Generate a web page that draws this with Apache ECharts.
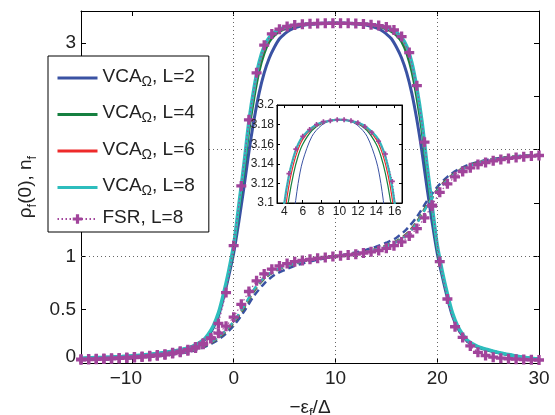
<!DOCTYPE html>
<html><head><meta charset="utf-8">
<script src="https://cdn.jsdelivr.net/npm/echarts@6/dist/echarts.min.js"></script>
<style>html,body{margin:0;padding:0;background:#fff}#c{width:555px;height:415px}</style>
</head><body><div id="c"></div>
<script>
// ---------- data ----------
const xRho = [-15,-14,-13,-12,-11,-10,-9,-8,-7,-6,-5,-4,-3,
  -2.5,-2,-1.5,-1,-0.5,0,0.5,1,1.5,2,2.5,3,3.5,4,4.5,5,5.5,6,
  7,8,9,10,11,12,13,
  14,14.5,15,15.5,16,16.5,17,17.5,18,18.5,19,19.5,20,20.5,21,21.5,22,22.5,
  23,24,25,26,27,28,29,30];
const rhoL2 = [0.043,0.047,0.051,0.055,0.06,0.066,0.073,0.082,0.094,0.108,0.127,0.155,0.205,
  0.255,0.33,0.44,0.61,0.81,1.03,1.32,1.64,1.98,2.28,2.53,2.72,2.86,2.96,3.04,3.085,3.12,3.143,
  3.168,3.179,3.184,3.185,3.184,3.179,3.168,
  3.143,3.12,3.085,3.04,2.96,2.86,2.72,2.53,2.28,1.98,1.64,1.32,1.03,0.81,0.61,0.44,0.33,0.255,
  0.2,0.15,0.12,0.096,0.077,0.059,0.046,0.036];
const rhoL4 = [0.044,0.048,0.052,0.056,0.061,0.067,0.074,0.083,0.095,0.109,0.128,0.157,0.21,
  0.262,0.34,0.455,0.63,0.84,1.07,1.42,1.78,2.17,2.48,2.73,2.9,3.01,3.07,3.105,3.13,3.148,3.16,
  3.174,3.181,3.184,3.185,3.184,3.181,3.174,
  3.16,3.148,3.13,3.105,3.07,3.01,2.9,2.73,2.48,2.17,1.78,1.42,1.07,0.84,0.63,0.455,0.34,0.262,
  0.205,0.152,0.122,0.098,0.078,0.06,0.047,0.037];
const rhoL6 = [0.044,0.048,0.052,0.056,0.061,0.067,0.074,0.083,0.095,0.109,0.128,0.158,0.212,
  0.265,0.345,0.46,0.64,0.85,1.09,1.45,1.82,2.22,2.53,2.78,2.94,3.035,3.085,3.118,3.14,3.155,3.165,
  3.176,3.181,3.184,3.185,3.184,3.181,3.176,
  3.165,3.155,3.14,3.118,3.085,3.035,2.94,2.78,2.53,2.22,1.82,1.45,1.09,0.85,0.64,0.46,0.345,0.265,
  0.207,0.153,0.123,0.098,0.079,0.061,0.047,0.037];
const rhoL8 = [0.045,0.049,0.053,0.057,0.062,0.068,0.075,0.084,0.096,0.11,0.13,0.16,0.215,
  0.27,0.35,0.47,0.65,0.86,1.11,1.48,1.86,2.27,2.58,2.82,2.97,3.055,3.1,3.128,3.147,3.16,3.168,
  3.177,3.182,3.184,3.185,3.184,3.182,3.177,
  3.168,3.16,3.147,3.128,3.1,3.055,2.97,2.82,2.58,2.27,1.86,1.48,1.11,0.86,0.65,0.47,0.35,0.27,
  0.21,0.155,0.125,0.1,0.08,0.062,0.048,0.038];

const xN = [-15,-14,-13,-12,-11,-10,-9,-8,-7,-6,-5,-4,-3,-2,-1,0,1,2,3,4,5,6,7,8,9,10,
  11,12,13,14,15,16,17,18,19,20,21,22,23,24,25,26,27,28,29,30];
const nL2 = [0.028,0.031,0.034,0.038,0.042,0.047,0.052,0.059,0.068,0.08,0.094,0.115,0.145,0.19,0.255,
  0.35,0.48,0.63,0.745,0.825,0.872,0.91,0.94,0.963,0.982,1.0,
  1.018,1.037,1.06,1.09,1.128,1.175,1.255,1.37,1.52,1.65,1.745,1.81,1.855,1.885,1.906,1.92,1.932,1.941,1.948,1.953];
const nL4 = [0.029,0.032,0.035,0.039,0.043,0.048,0.054,0.061,0.071,0.084,0.099,0.122,0.155,0.203,0.275,
  0.378,0.515,0.675,0.79,0.858,0.9,0.932,0.956,0.974,0.987,1.0,
  1.013,1.026,1.044,1.068,1.1,1.142,1.21,1.322,1.485,1.622,1.725,1.797,1.845,1.878,1.901,1.916,1.929,1.939,1.946,1.951];
const nL6 = [0.03,0.033,0.036,0.04,0.044,0.049,0.055,0.062,0.072,0.085,0.1,0.124,0.158,0.207,0.28,
  0.385,0.525,0.685,0.797,0.863,0.903,0.934,0.957,0.975,0.988,1.0,
  1.012,1.026,1.043,1.066,1.097,1.138,1.205,1.315,1.475,1.615,1.72,1.793,1.842,1.876,1.9,1.915,1.928,1.938,1.945,1.95];
const nL8 = [0.03,0.033,0.036,0.04,0.044,0.049,0.055,0.062,0.072,0.085,0.1,0.125,0.16,0.21,0.285,
  0.39,0.53,0.69,0.8,0.865,0.905,0.935,0.958,0.975,0.988,1.0,
  1.012,1.025,1.042,1.065,1.095,1.135,1.2,1.31,1.47,1.61,1.715,1.79,1.84,1.875,1.9,1.915,1.928,1.938,1.945,1.95];

const xFSR = [-15,-14.25,-13.5,-12.75,-12,-11.25,-10.5,-9.75,-9,-8.25,-7.5,-6.75,-6,-5.25,-4.5,-3.75,-3,-2.25,-1.5,-0.75,
  0,0.75,1.5,2.25,3,3.75,4.5,5.25,6,6.75,7.5,8.25,9,9.75,
  10.5,11.25,12,12.75,13.5,14.25,15,15.75,16.5,17.25,18,18.75,19.5,20.25,21,21.75,22.5,23.25,24,24.75,25.5,26.25,27,27.75,28.5,29.25,30];
const fsrRho = [0.03,0.032,0.034,0.037,0.04,0.043,0.047,0.051,0.056,0.062,0.069,0.077,0.088,0.1,0.116,0.14,0.175,0.235,0.37,0.66,
  1.10,1.66,2.28,2.72,2.98,3.085,3.13,3.155,3.168,3.175,3.18,3.183,3.184,3.185,
  3.185,3.184,3.182,3.178,3.172,3.163,3.15,3.122,3.06,2.91,2.6,2.07,1.47,0.95,0.6,0.34,0.24,0.16,0.1,0.07,0.055,0.045,0.04,0.036,0.033,0.03,0.028];
const fsrN = [0.035,0.037,0.039,0.042,0.045,0.048,0.052,0.056,0.062,0.068,0.075,0.083,0.095,0.11,0.125,0.15,0.185,0.23,0.28,0.345,
  0.43,0.55,0.67,0.77,0.835,0.88,0.91,0.932,0.95,0.962,0.972,0.982,0.99,0.998,
  1.005,1.013,1.02,1.031,1.042,1.055,1.075,1.1,1.135,1.19,1.26,1.36,1.48,1.6,1.68,1.745,1.795,1.83,1.86,1.88,1.895,1.908,1.918,1.926,1.934,1.94,1.945];

const seriesNames = ['VCAΩ, L=2','VCAΩ, L=4','VCAΩ, L=6','VCAΩ, L=8'];
const fsrName = 'FSR, L=8';
const xTicks = [-10,0,10,20,30];
const yTicks = [0,0.5,1,1.5,2,2.5,3];
const gridX = [0,10,20];
const gridY = [1,2];
const insetXTicks = [4,6,8,10,12,14,16];
const insetYTicks = [3.1,3.12,3.14,3.16,3.18,3.2];
const insetGridX = [10];

// ---------- styles ----------
const colors = ['#3A52A3','#168040','#EE2A2A','#2DBDBD'];
const magenta = '#A1449B';
const rhoWidths = [3,2.5,1.6,3.4];
const insetWidths = [1,1.2,1.2,2.2];
const FONT = 'Liberation Sans, Arial, sans-serif';
const plus = 'path://M3,0H6V3H9V6H6V9H3V6H0V3H3Z';
const zip = (xs, ys) => xs.map((x, i) => [x, ys[i]]);
const rhoAll = [rhoL2, rhoL4, rhoL6, rhoL8];
const nAll = [nL2, nL4, nL6, nL8];

const series = [];
series.push({
  type: 'line', name: 'grid', data: [], z: 1, silent: true,
  markLine: { silent: true, symbol: ['none','none'], label: {show:false}, animation:false,
    lineStyle: { color: '#666', type: [1,3], width: 1 },
    data: gridX.map(v => ({xAxis: v})).concat(gridY.map(v => ({yAxis: v}))) }
});
for (let k = 0; k < 4; k++) {
  series.push({ type:'line', name: seriesNames[k], xAxisIndex:0, yAxisIndex:0,
    data: zip(xRho, rhoAll[k]), symbol:'circle', showSymbol:false, smooth:0.3, z: 2 + k*0.1,
    lineStyle:{color:colors[k], width:rhoWidths[k]}, itemStyle:{color:colors[k]} });
  series.push({ type:'line', name: seriesNames[k], xAxisIndex:0, yAxisIndex:0,
    data: zip(xN, nAll[k]), symbol:'circle', showSymbol:false, smooth:0.3, z: 2 + k*0.1,
    lineStyle:{color:colors[k], width:2.5, type:[7,4]}, itemStyle:{color:colors[k]} });
}
series.push({ type:'line', name: fsrName, xAxisIndex:0, yAxisIndex:0, data: zip(xFSR, fsrRho),
  symbol: plus, symbolSize: 10, showAllSymbol: true, z: 3,
  itemStyle:{color:magenta}, lineStyle:{color:magenta, width:1.2, type:[1.5,2.5]} });
series.push({ type:'line', name: fsrName, xAxisIndex:0, yAxisIndex:0, data: zip(xFSR, fsrN),
  symbol: plus, symbolSize: 10, showAllSymbol: true, z: 3,
  itemStyle:{color:magenta}, lineStyle:{color:magenta, width:1.2, type:[1.5,2.5]} });
// inset
series.push({
  type: 'line', name: 'insetgrid', xAxisIndex:2, yAxisIndex:2, data: [], z: 11, silent: true,
  markLine: { silent: true, symbol: ['none','none'], label: {show:false}, animation:false,
    lineStyle: { color: '#888', type: [1,2], width: 1 },
    data: insetGridX.map(v => ({xAxis: v})) }
});
for (let k = 0; k < 4; k++) {
  series.push({ type:'line', name: seriesNames[k], xAxisIndex:2, yAxisIndex:2,
    data: zip(xRho, rhoAll[k]), symbol:'circle', showSymbol:false, smooth:0.3, z: 12, clip: true,
    lineStyle:{color:colors[k], width:insetWidths[k]}, itemStyle:{color:colors[k]} });
}
series.push({ type:'line', name: fsrName, xAxisIndex:2, yAxisIndex:2, data: zip(xFSR, fsrRho),
  symbol: plus, symbolSize: 5, showAllSymbol: true, z: 12, clip: true,
  itemStyle:{color:magenta}, lineStyle:{color:magenta, width:1, type:[1,2]} });

const axisLineBlack = { show:true, onZero:false, lineStyle:{color:'#000', width:1} };
const labelStyle = { fontSize: 19, color: '#222', fontFamily: FONT };
const rich = {
  a: { fontSize: 19, lineHeight: 22, verticalAlign: 'top', fontFamily: FONT, color: '#222' },
  s: { fontSize: 13, lineHeight: 13, verticalAlign: 'bottom', padding: [14,0,0,0], fontFamily: FONT, color: '#222' }
};

const option = {
  animation: false,
  backgroundColor: '#fff',
  grid: [
    { left: 81, top: 11, width: 458, height: 352, show: false, outerBoundsMode: 'none', containLabel: false },
    { left: 277, top: 105, width: 125, height: 98, show: true, backgroundColor: '#fff',
      borderColor: '#000', borderWidth: 1, z: 10, outerBoundsMode: 'none', containLabel: false }
  ],
  xAxis: [
    { type:'value', gridIndex:0, min:-15, max:30, position:'bottom',
      axisLine: axisLineBlack,
      axisTick: { inside:true, length:5, customValues: xTicks, lineStyle:{color:'#000'} },
      axisLabel: Object.assign({ customValues: xTicks, margin: 6,
        formatter: v => v < 0 ? '{n|\u2212' + Math.abs(v) + '}' : String(v),
        rich: { n: { fontSize: 19, color:'#222', fontFamily: FONT, padding:[0,12,0,0] } } }, labelStyle),
      splitLine: {show:false},
      name: '{a|\u2212\u03b5}{s|f}{a|/\u0394}', nameLocation:'middle', nameGap: 33,
      nameTextStyle: { rich: rich } },
    { type:'value', gridIndex:0, min:-15, max:30, position:'top',
      axisLine: axisLineBlack,
      axisTick: { inside:true, length:5, customValues: xTicks, lineStyle:{color:'#000'} },
      axisLabel: {show:false}, splitLine:{show:false} },
    { type:'value', gridIndex:1, min:3.2, max:16.8, position:'bottom', z: 11,
      axisLine: axisLineBlack,
      axisTick: { inside:true, length:3, customValues: insetXTicks, lineStyle:{color:'#000'} },
      axisLabel: { customValues: insetXTicks, margin: 3, fontSize: 12, color:'#222', fontFamily: FONT },
      splitLine:{show:false} },
    { type:'value', gridIndex:1, min:3.2, max:16.8, position:'top', z: 11,
      axisLine: axisLineBlack,
      axisTick: { inside:true, length:3, customValues: insetXTicks, lineStyle:{color:'#000'} },
      axisLabel: {show:false}, splitLine:{show:false} }
  ],
  yAxis: [
    { type:'value', gridIndex:0, min:0, max:3.3, position:'left',
      axisLine: axisLineBlack,
      axisTick: { inside:true, length:5, customValues: yTicks, lineStyle:{color:'#000'} },
      axisLabel: Object.assign({ customValues: yTicks, margin: 5,
        formatter: v => v === 0 ? '{z|0}' : String(v),
        rich: { z: { fontSize: 19, color:'#222', fontFamily: FONT, padding:[0,0,12,0] } } }, labelStyle),
      splitLine:{show:false},
      name: '{a|\u03c1}{s|f}{a|(0), n}{s|f}', nameLocation:'middle', nameGap: 35, nameRotate: 90,
      nameTextStyle: { rich: rich } },
    { type:'value', gridIndex:0, min:0, max:3.3, position:'right',
      axisLine: axisLineBlack,
      axisTick: { inside:true, length:5, customValues: yTicks, lineStyle:{color:'#000'} },
      axisLabel: {show:false}, splitLine:{show:false} },
    { type:'value', gridIndex:1, min:3.1, max:3.2, position:'left', z: 11,
      axisLine: axisLineBlack,
      axisTick: { inside:true, length:3, customValues: insetYTicks, lineStyle:{color:'#000'} },
      axisLabel: { customValues: insetYTicks, margin: 3, fontSize: 12, color:'#222', fontFamily: FONT,
        formatter: v => String(+v.toFixed(2)) },
      splitLine:{show:false} },
    { type:'value', gridIndex:1, min:3.1, max:3.2, position:'right', z: 11,
      axisLine: axisLineBlack,
      axisTick: { inside:true, length:3, customValues: insetYTicks, lineStyle:{color:'#000'} },
      axisLabel: {show:false}, splitLine:{show:false} }
  ],
  legend: {
    left: 48, top: 56, orient: 'vertical', z: 20,
    backgroundColor: '#fff', borderColor: '#000', borderWidth: 1, borderRadius: 0,
    padding: [6, 14, 5, 8], itemWidth: 40, itemHeight: 12, itemGap: 9.5,
    selectedMode: false,
    data: seriesNames.map((n, k) => ({ name: n, lineStyle: { width: 3, color: colors[k] },
        itemStyle: { opacity: 0 } }))
      .concat([{ name: fsrName }]),
    formatter: name => {
      if (name.indexOf('VCA') === 0) return '{a|VCA}{s|\u03a9}{a|' + name.slice(4) + '}';
      return '{a|' + name + '}';
    },
    textStyle: { fontFamily: FONT, fontSize: 19, color:'#222', rich: {
      a: { fontSize: 19, lineHeight: 22, verticalAlign: 'top', fontFamily: FONT, color:'#222' },
      s: { fontSize: 14, lineHeight: 14, verticalAlign: 'bottom', padding: [13,0,0,0], fontFamily: FONT, color:'#222' }
    } }
  },
  series: series
};
const chart = echarts.init(document.getElementById('c'), null, { renderer: 'canvas' });
chart.setOption(option);
</script></body></html>
